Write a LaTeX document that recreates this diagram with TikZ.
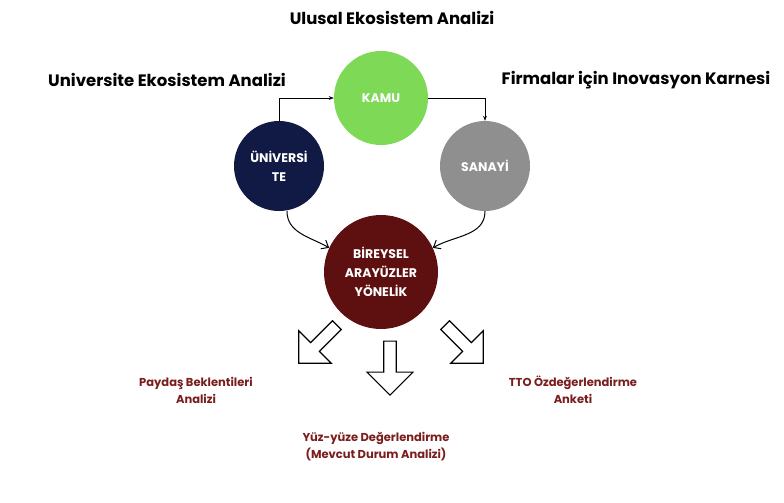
\documentclass[tikz,border=0pt]{standalone}
\usepackage{fontspec}
\setmainfont{Poppins}
\usetikzlibrary{shapes.arrows,arrows.meta}
\definecolor{kamu}{HTML}{7ED957}
\definecolor{uni}{HTML}{101A45}
\definecolor{san}{HTML}{8F8F8F}
\definecolor{bir}{HTML}{5E1010}
\definecolor{lab}{HTML}{7A1D1D}
\begin{document}
\begin{tikzpicture}[x=1pt,y=-1pt,
  circ/.style={circle,inner sep=0pt,text=white,font=\fontsize{12.5}{19}\selectfont\bfseries,align=center},
  head/.style={font=\fontsize{16.5}{20}\selectfont\bfseries,text=black},
  lbl/.style={font=\fontsize{11.5}{17}\selectfont\bfseries,text=lab,align=center},
  con/.style={-{Stealth[length=5pt]},thin},
  cur/.style={-{Straight Barb[length=6pt,width=10pt]},line width=1pt},
  blk/.style={single arrow,draw=black,fill=white,line width=1.2pt,minimum width=46pt,single arrow head extend=7pt,minimum height=54pt,inner sep=2pt}]
\useasboundingbox (0,0) rectangle (784,503);
\fill[white] (0,0) rectangle (784,503);
\node[circ,fill=kamu,minimum size=94pt] (kamu) at (381,98) {KAMU};
\node[circ,fill=uni,minimum size=90pt] (uni) at (279,166) {ÜNİVERSİ\\TE};
\node[circ,fill=san,minimum size=90pt] (san) at (485,166) {SANAYİ};
\node[circ,fill=bir,minimum size=114pt] (bir) at (381,272) {BİREYSEL\\ARAYÜZLER\\YÖNELİK};
\node[head] (t1) at (392,18) {Ulusal Ekosistem Analizi};
\node[head] (t2) at (167,80) {Universite Ekosistem Analizi};
\node[head] (t3) at (636,80) {Firmalar için Inovasyon Karnesi};
\draw[con] (uni.north) |- (kamu.west);
\draw[con] (kamu.east) -| (san.north);
\draw[cur] (uni.south) ++(8,0) coordinate (u1) (u1) to[out=-90,in=150] (bir.155);
\draw[cur] (san.south) coordinate (s1) (s1) to[out=-90,in=30] (bir.25);
\node[blk,rotate=-135] (a1) at (320,342) {};
\node[blk,rotate=-90] (a2) at (390,365) {};
\node[blk,rotate=-45] (a3) at (462,342) {};
\node[lbl] (l1) at (196,390) {Paydaş Beklentileri\\Analizi};
\node[lbl] (l2) at (376,447) {Yüz-yüze Değerlendirme\\(Mevcut Durum Analizi)};
\node[lbl] (l3) at (573,390) {TTO Özdeğerlendirme\\Anketi};
\end{tikzpicture}
\end{document}
